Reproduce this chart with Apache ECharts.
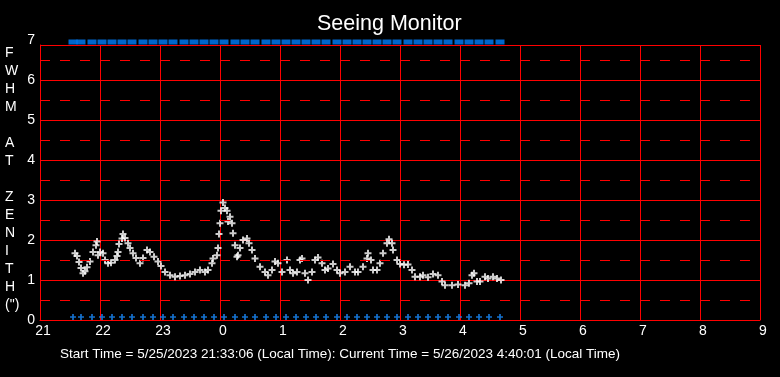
<!DOCTYPE html>
<html lang="en">
<head>
    <meta charset="utf-8">
    <title>Seeing Monitor</title>
    <script type="text/javascript" src="https://cdn.jsdelivr.net/npm/echarts@6/dist/echarts.min.js"></script>
    <style>
        html, body { margin: 0; padding: 0; background: #000; }
        #main { width: 780px; height: 377px; }
    </style>
</head>
<body>
<div id="main"></div>
<script>
    // time axis in minutes after 21:00 local time (1 hour = 60)
    var xTicks = [0, 60, 120, 180, 240, 300, 360, 420, 480, 540, 600, 660, 720];
    var xTickLabels = ['21', '22', '23', '0', '1', '2', '3', '4', '5', '6', '7', '8', '9'];
    var yTicks = [0, 1, 2, 3, 4, 5, 6, 7];
    var halfLines = [0.5, 1.5, 2.5, 3.5, 4.5, 5.5, 6.5];

    // FWHM readings (minutes after 21:00, arcsec)
    var seeingTime = [35, 37, 39, 41, 43, 45, 47, 50, 53, 56, 57, 58, 60, 63, 65, 68, 71, 75, 77, 78,
        79, 82, 83, 85, 88, 90, 93, 96, 100, 103, 107, 110, 114, 118, 121, 125, 130, 135, 140, 145,
        150, 155, 160, 165, 168, 172, 173, 177, 178, 179, 180, 181, 183, 185, 187, 188, 190, 192, 193, 195,
        197, 198, 200, 203, 207, 209, 212, 215, 220, 225, 228, 232, 235, 238, 242, 247, 250, 253, 257, 260,
        262, 265, 268, 272, 275, 278, 282, 285, 288, 293, 297, 300, 305, 310, 315, 318, 323, 327, 328, 331,
        333, 337, 340, 343, 347, 349, 352, 353, 357, 360, 364, 368, 372, 375, 380, 383, 388, 393, 398, 402,
        405, 412, 418, 425, 429, 432, 434, 437, 440, 445, 448, 453, 457, 461];
    var seeingFwhm = [1.67, 1.6, 1.45, 1.3, 1.17, 1.22, 1.32, 1.46, 1.7, 1.87, 1.96, 1.62, 1.7, 1.67, 1.5, 1.42, 1.43, 1.5, 1.6, 1.7,
        1.9, 2.04, 2.15, 2.05, 1.92, 1.8, 1.67, 1.55, 1.42, 1.55, 1.75, 1.7, 1.58, 1.46, 1.35, 1.2, 1.12, 1.08, 1.1, 1.12,
        1.15, 1.2, 1.25, 1.2, 1.25, 1.42, 1.54, 1.62, 1.8, 2.15, 2.42, 2.73, 2.94, 2.8, 2.73, 2.46, 2.58, 2.42, 2.17, 1.87,
        1.58, 1.62, 1.8, 2.0, 2.04, 1.92, 1.75, 1.54, 1.33, 1.2, 1.12, 1.25, 1.46, 1.42, 1.2, 1.5, 1.25, 1.17, 1.2, 1.5,
        1.54, 1.17, 1.0, 1.2, 1.5, 1.56, 1.42, 1.25, 1.29, 1.4, 1.25, 1.17, 1.2, 1.33, 1.2, 1.2, 1.33, 1.54, 1.67, 1.5,
        1.25, 1.25, 1.42, 1.67, 1.92, 2.02, 1.92, 1.75, 1.5, 1.4, 1.38, 1.39, 1.25, 1.08, 1.08, 1.12, 1.07, 1.15, 1.12, 0.96,
        0.87, 0.87, 0.89, 0.87, 0.92, 1.12, 1.17, 0.96, 0.96, 1.08, 1.04, 1.08, 1.04, 1.0];

    // measurement time markers (minutes after 21:00)
    var markTime = [33, 41, 52, 62, 72, 82, 92, 103, 113, 123, 133, 144, 154, 164, 174, 184, 195, 205, 215, 226,
        236, 246, 256, 266, 276, 286, 297, 307, 317, 327, 337, 347, 357, 368, 378, 388, 398, 408, 419, 429,
        439, 449, 460];

    var plusPath = 'path://M2.5,0h2v2.5h2.5v2h-2.5v2.5h-2v-2.5h-2.5v-2h2.5z';
    var red = '#ff0000';
    var yTop = 6.875;   // frame top sits just under the "7" label
    var font = 'Liberation Sans, Arial, sans-serif';

    var chart = echarts.init(document.getElementById('main'));

    var seeingData = seeingTime.map(function (t, i) { return [t, seeingFwhm[i]]; });
    var bottomMarks = markTime.map(function (t) { return [t, yTicks[0]]; });
    var topMarks = markTime.map(function (t) { return [t, yTicks[yTicks.length - 1]]; });

    var option = {
        backgroundColor: '#000',
        animation: false,
        title: {
            text: 'Seeing Monitor',
            left: 312,
            top: 8,
            textStyle: { color: '#fff', fontSize: 21.5, fontWeight: 'normal', fontFamily: font }
        },
        grid: { left: 40, right: 20, top: 45, bottom: 57 },
        xAxis: {
            type: 'value',
            min: xTicks[0],
            max: xTicks[xTicks.length - 1],
            interval: 60,
            axisLine: { lineStyle: { color: red, width: 1 } },
            axisTick: { show: false },
            axisLabel: {
                color: '#fff',
                fontSize: 14,
                fontFamily: font,
                margin: 4,
                padding: [0, 0, 0, 6],
                formatter: function (v) { return xTickLabels[xTicks.indexOf(v)]; }
            },
            splitLine: { show: true, lineStyle: { color: red, width: 1 } }
        },
        yAxis: {
            type: 'value',
            min: yTicks[0],
            max: yTop,
            interval: 1,
            axisLine: { show: true, lineStyle: { color: red, width: 1 } },
            axisTick: { show: false },
            axisLabel: {
                color: '#fff',
                fontSize: 14,
                fontFamily: font,
                margin: 5,
                formatter: function (v) {
                    if (v > 6.5) return '{top|' + yTicks[yTicks.length - 1] + '}';
                    return String(v);
                },
                rich: { top: { color: '#fff', fontSize: 14, fontFamily: font, padding: [0, 0, 10, 0] } }
            },
            splitLine: { show: true, lineStyle: { color: red, width: 1 } }
        },
        graphic: [
            {
                type: 'text',
                left: 5,
                top: 44,
                style: {
                    text: 'F\nW\nH\nM\n\nA\nT\n\nZ\nE\nN\nI\nT\nH\n(")',
                    fill: '#fff',
                    font: '14px ' + font,
                    lineHeight: 18,
                    align: 'center',
                    x: 6
                }
            },
            {
                type: 'text',
                left: 60,
                top: 347,
                style: {
                    text: 'Start Time = 5/25/2023 21:33:06 (Local Time): Current Time = 5/26/2023 4:40:01 (Local Time)',
                    fill: '#fff',
                    font: '13.5px ' + font
                }
            }
        ],
        series: [
            {
                name: 'half',
                type: 'scatter',
                data: [],
                silent: true,
                markLine: {
                    silent: true,
                    symbol: 'none',
                    label: { show: false },
                    lineStyle: { color: red, type: [10, 10], width: 1 },
                    data: halfLines.map(function (v) { return { yAxis: v }; })
                }
            },
            {
                name: 'top',
                type: 'scatter',
                clip: false,
                symbol: 'rect',
                symbolSize: [9, 5],
                symbolOffset: [0, 2],
                itemStyle: { color: '#0080ff' },
                data: topMarks,
                z: 3
            },
            {
                name: 'marks',
                type: 'scatter',
                symbol: plusPath,
                symbolSize: 6,
                symbolOffset: [0, -3],
                itemStyle: { color: '#1a8cff' },
                data: bottomMarks,
                z: 3
            },
            {
                name: 'FWHM',
                type: 'scatter',
                symbol: plusPath,
                symbolSize: 7,
                itemStyle: { color: '#fff' },
                data: seeingData,
                z: 4
            }
        ]
    };

    chart.setOption(option);
</script>
</body>
</html>
